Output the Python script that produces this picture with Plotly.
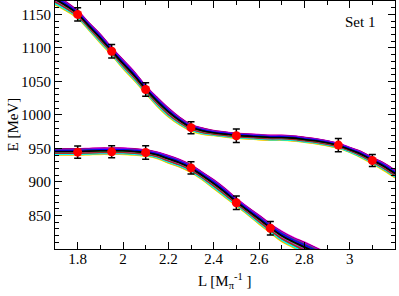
import plotly.graph_objects as go

# ---- data ----
L_grid = [1.70, 1.75, 1.80, 1.85, 1.90, 1.95, 2.00, 2.05, 2.10, 2.15, 2.20, 2.25,
          2.30, 2.35, 2.40, 2.45, 2.50, 2.55, 2.60, 2.65, 2.70, 2.75, 2.80, 2.85,
          2.90, 2.95, 3.00, 3.05, 3.10, 3.15, 3.20]
upper_center = [1172, 1162, 1150, 1132, 1114, 1095, 1076, 1058, 1038, 1020, 1004, 991,
                981, 976, 973, 971, 969, 968, 967, 966, 966, 965, 963, 961,
                958, 954, 948, 941, 932, 923, 912]
upper_half = [8, 7, 6, 6, 7, 6, 7, 7, 6, 7, 7, 6,
              5, 5, 4, 4, 4, 4, 4, 4, 4, 4, 4, 4,
              4, 4, 4, 5, 5, 6, 6]
lower_center = [945, 945, 945, 945.5, 946, 946, 946, 945, 943.5, 940, 934, 928,
                920, 909, 897, 884, 870, 857, 844, 831, 819, 810, 802, 794,
                786, 778, 770, 762, 754, 746, 738]
lower_half = [5, 5, 5, 5, 5, 5, 5, 5, 5, 5, 6, 6,
              6, 6, 7, 7, 6, 6, 7, 7, 8, 8, 9, 9,
              9, 9, 9, 9, 9, 9, 9]

curve_fracs = [-1.0, 0.95, -0.55, 0.35, -0.8, 0.7, -0.2, 0.1, -0.9, 0.85, -0.4, 0.5,
               -0.65, 0.25, -0.3, 0.6, -0.1, 0.8, -0.75, 0.45, 0.0, -0.45, 0.15, 0.05]
curve_colors = ["#ffff00", "#ff00ff", "#00ffff", "#00ff00", "#bebebe", "#9400d3",
                "#0000ff", "#a0522d", "#ffa500", "#8b0000", "#40e0d0", "#ff0000",
                "#00b000", "#4b0082", "#b03060", "#228b22", "#ff00ff", "#9400d3",
                "#00ffff", "#0000ff", "#00ff00", "#a52a2a", "#000000", "#000000"]

pts_upper_L = [1.80, 1.95, 2.10, 2.30, 2.50, 2.95, 3.10]
pts_upper_E = [1150, 1095, 1038, 981, 969, 955, 932]
pts_upper_err = [10, 10, 10, 9, 10, 10, 9]
pts_lower_L = [1.80, 1.95, 2.10, 2.30, 2.50, 2.65]
pts_lower_E = [944.5, 945, 944, 921, 869, 831]
pts_lower_err = [9, 9, 10, 9, 10, 10]

x_ticks = [1.8, 2.0, 2.2, 2.4, 2.6, 2.8, 3.0]
x_ticklabels = ["1.8", "2", "2.2", "2.4", "2.6", "2.8", "3"]
y_ticks = [850, 900, 950, 1000, 1050, 1100, 1150]
y_ticklabels = ["850", "900", "950", "1000", "1050", "1100", "1150"]

fig = go.Figure()

for center, half in ((upper_center, upper_half), (lower_center, lower_half)):
    for frac, col in zip(curve_fracs, curve_colors):
        yv = [c + frac * h for c, h in zip(center, half)]
        fig.add_trace(go.Scatter(x=L_grid, y=yv, mode="lines",
                                 line=dict(color=col, width=1.3, shape="spline"),
                                 hoverinfo="skip", showlegend=False))

for Lp, Ep, Er in ((pts_upper_L, pts_upper_E, pts_upper_err),
                   (pts_lower_L, pts_lower_E, pts_lower_err)):
    fig.add_trace(go.Scatter(x=Lp, y=Ep, mode="markers",
                             marker=dict(color="#ff0000", size=9, symbol="circle"),
                             error_y=dict(type="data", array=Er, visible=True,
                                          color="black", thickness=1.5, width=3.5),
                             showlegend=False))

font = "Liberation Serif, Times New Roman, serif"
axis_common = dict(showline=True, linecolor="black", linewidth=1, mirror="allticks",
                   ticks="inside", ticklen=7, tickwidth=1, tickcolor="black",
                   showgrid=False, zeroline=False, automargin=False,
                   tickfont=dict(family=font, size=15, color="black"))

fig.update_xaxes(range=[1.7, 3.2], tickmode="array", tickvals=x_ticks,
                 ticktext=x_ticklabels, ticklabelstandoff=-4,
                 minor=dict(dtick=0.1, tick0=1.7, ticks="inside", ticklen=4,
                            tickcolor="black", showgrid=False),
                 **axis_common)
fig.update_yaxes(range=[800, 1170], tickmode="array", tickvals=y_ticks,
                 ticktext=y_ticklabels,
                 minor=dict(dtick=10, tick0=800, ticks="inside", ticklen=4,
                            tickcolor="black", showgrid=False),
                 **axis_common)

fig.add_annotation(x=3.12, y=1139, text="Set 1", showarrow=False,
                   xanchor="right", yanchor="middle",
                   font=dict(family=font, size=15, color="black"))
fig.add_annotation(xref="paper", yref="paper", x=0.5, y=-0.128,
                   text="L [M<sub>π</sub><sup>-1</sup> ]", showarrow=False,
                   xanchor="center", yanchor="middle",
                   font=dict(family=font, size=15, color="black"))
fig.add_annotation(xref="paper", yref="paper", x=-0.125, y=0.5,
                   text="E [MeV]", showarrow=False, textangle=-90,
                   xanchor="center", yanchor="middle",
                   font=dict(family=font, size=15, color="black"))

fig.update_layout(width=399, height=296, margin=dict(l=55, r=4, t=1, b=47),
                  plot_bgcolor="white", paper_bgcolor="white")

fig.write_html("out.html", config={"displayModeBar": False, "staticPlot": True},
               post_script="document.body.style.margin='0';document.body.style.overflow='hidden';")
